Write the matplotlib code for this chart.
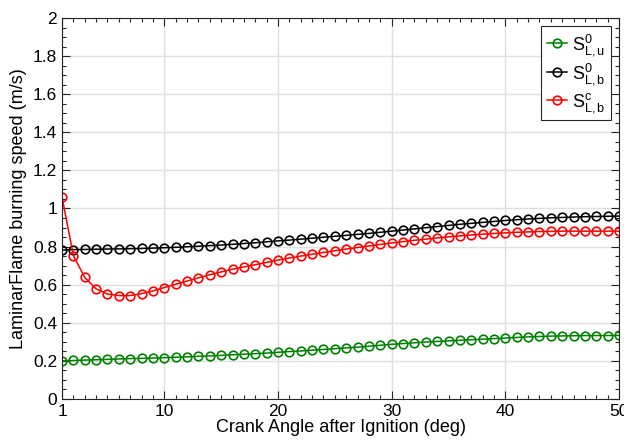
import numpy as np
import matplotlib
matplotlib.use("Agg")
import matplotlib.pyplot as plt
from matplotlib.ticker import MultipleLocator

plt.rcParams['font.family'] = ['Liberation Sans', 'DejaVu Sans']
plt.rcParams['mathtext.fontset'] = 'custom'
plt.rcParams['mathtext.rm'] = 'Liberation Sans'
plt.rcParams['mathtext.it'] = 'Liberation Sans'

# crank angle after ignition (deg)
crank_angle = np.arange(1, 51)

# unburned laminar flame speed
sl_u0 = [0.200, 0.202, 0.204, 0.206, 0.208, 0.210, 0.212, 0.213, 0.215, 0.217,
         0.219, 0.221, 0.224, 0.226, 0.229, 0.232, 0.235, 0.238, 0.241, 0.245,
         0.249, 0.252, 0.256, 0.260, 0.264, 0.268, 0.272, 0.277, 0.282, 0.287,
         0.291, 0.295, 0.299, 0.302, 0.305, 0.308, 0.311, 0.314, 0.317, 0.320,
         0.323, 0.326, 0.328, 0.330, 0.331, 0.332, 0.333, 0.333, 0.333, 0.334]

# burned laminar flame speed, unstretched
sl_b0 = [0.782, 0.784, 0.785, 0.786, 0.787, 0.788, 0.789, 0.790, 0.792, 0.794,
         0.796, 0.799, 0.802, 0.805, 0.808, 0.812, 0.816, 0.820, 0.825, 0.830,
         0.834, 0.839, 0.844, 0.849, 0.854, 0.859, 0.864, 0.869, 0.875, 0.881,
         0.887, 0.893, 0.899, 0.905, 0.911, 0.917, 0.922, 0.927, 0.932, 0.937,
         0.941, 0.945, 0.948, 0.951, 0.953, 0.955, 0.957, 0.958, 0.959, 0.960]

# burned laminar flame speed, stretch corrected
sl_bc = [1.060, 0.752, 0.638, 0.578, 0.551, 0.543, 0.543, 0.553, 0.567, 0.585,
         0.602, 0.619, 0.636, 0.652, 0.667, 0.681, 0.693, 0.705, 0.717, 0.729,
         0.740, 0.750, 0.760, 0.769, 0.778, 0.787, 0.795, 0.803, 0.811, 0.819,
         0.826, 0.833, 0.839, 0.845, 0.851, 0.856, 0.861, 0.865, 0.869, 0.872,
         0.875, 0.877, 0.879, 0.880, 0.881, 0.881, 0.881, 0.881, 0.881, 0.881]

fig = plt.figure(figsize=(6.24, 4.44), dpi=100)
ax = fig.add_axes([0.0994, 0.1014, 0.8926, 0.8581])

style = dict(marker='o', markersize=6.2, markerfacecolor='none',
             markeredgewidth=1.2, linewidth=1.1)
ax.plot(crank_angle, sl_u0, color='#008000', label=r'$\mathregular{S_{L,u}^{0}}$', **style)
ax.plot(crank_angle, sl_b0, color='black', label=r'$\mathregular{S_{L,b}^{0}}$', **style)
ax.plot(crank_angle, sl_bc, color='red', label=r'$\mathregular{S_{L,b}^{c}}$', **style)

ax.set_xlim(1, 50)
ax.set_ylim(0, 2)
ax.set_xticks([1, 10, 20, 30, 40, 50])
ax.set_yticks(np.arange(0, 2.01, 0.2))
ax.set_yticklabels(['0', '0.2', '0.4', '0.6', '0.8', '1', '1.2', '1.4', '1.6', '1.8', '2'])
ax.xaxis.set_minor_locator(MultipleLocator(1))
ax.yaxis.set_minor_locator(MultipleLocator(0.05))
ax.tick_params(which='both', direction='in', top=True, right=True,
               labelsize=12.5, color='#262626', width=0.8)
ax.tick_params(which='major', length=6)
ax.tick_params(which='minor', length=3)
ax.grid(True, which='major', color='#e0e0e0', linewidth=1.0)
ax.set_axisbelow(True)
for s in ax.spines.values():
    s.set_color('#262626')
    s.set_linewidth(0.8)

ax.set_xlabel('Crank Angle after Ignition (deg)', fontsize=13, labelpad=0)
ax.set_ylabel('LaminarFlame burning speed (m/s)', fontsize=13, labelpad=4)

leg = ax.legend(loc='upper right', fontsize=13, handlelength=1.1,
                handletextpad=0.3, borderpad=0.3, labelspacing=0.2,
                fancybox=False, framealpha=1, borderaxespad=0.45)
leg.get_frame().set_edgecolor('#262626')
leg.get_frame().set_linewidth(0.8)

fig.savefig('out.png', dpi=100)
